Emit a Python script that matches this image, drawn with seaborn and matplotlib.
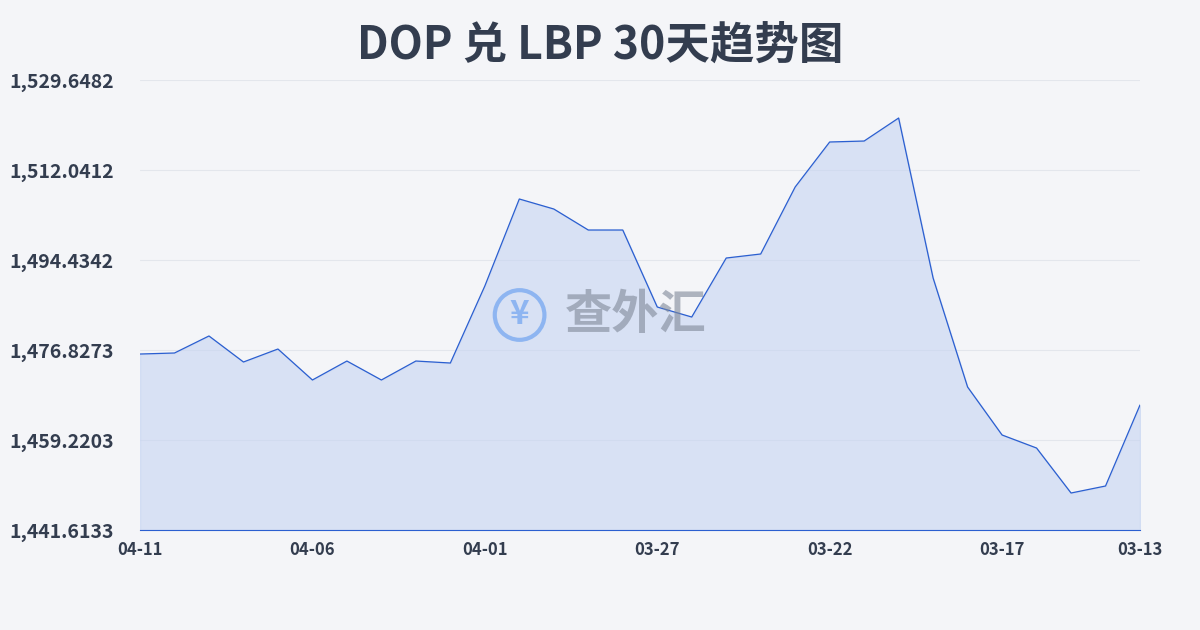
import matplotlib.pyplot as plt
import seaborn as sns
import pandas as pd

# dates from 04-11 back to 03-13
dates = ["04-11", "04-10", "04-09", "04-08", "04-07", "04-06", "04-05", "04-04", "04-03", "04-02",
         "04-01", "03-31", "03-30", "03-29", "03-28", "03-27", "03-26", "03-25", "03-24", "03-23",
         "03-22", "03-21", "03-20", "03-19", "03-18", "03-17", "03-16", "03-15", "03-14", "03-13"]
rates = [1476.04, 1476.24, 1479.57, 1474.48, 1477.02, 1470.96, 1474.67, 1470.96, 1474.67, 1474.28,
         1489.35, 1506.37, 1504.41, 1500.30, 1500.30, 1485.24, 1483.28, 1494.82, 1495.61, 1508.72,
         1517.52, 1517.71, 1522.21, 1490.91, 1469.59, 1460.20, 1457.65, 1448.85, 1450.22, 1466.07]
yticks = [1441.6133, 1459.2203, 1476.8273, 1494.4342, 1512.0412, 1529.6482]
xtick_labels = ["04-11", "04-06", "04-01", "03-27", "03-22", "03-17", "03-13"]

df = pd.DataFrame({"i": range(len(dates)), "date": dates, "rate": rates})

sns.set_style("white")
plt.rcParams['font.family'] = ['Noto Sans CJK SC', 'DejaVu Sans']

fig = plt.figure(figsize=(12, 6.3), dpi=100, facecolor="#f4f5f8")
ax = fig.add_axes([140/1200, 100/630, 1000/1200, 450/630])
ax.set_facecolor("none")

line_color = "#2b5fd0"
sns.lineplot(data=df, x="i", y="rate", ax=ax, color=line_color, linewidth=0.9)
ax.fill_between(df["i"], df["rate"], yticks[0], color="#c6d4f2", alpha=0.6)

ax.set_xlim(0, 29)
ax.set_ylim(yticks[0], yticks[-1])
ax.set_yticks(yticks)
ax.set_yticklabels([f"{v:,.4f}" for v in yticks], ha="left", fontsize=14,
                   color="#333d4f", fontweight="bold")
ax.tick_params(axis="y", length=0, pad=94)
xt = [dates.index(d) for d in xtick_labels]
ax.set_xticks(xt)
ax.set_xticklabels(xtick_labels, fontsize=12, color="#333d4f", fontweight="bold")
ax.tick_params(axis="x", length=5, color=line_color, pad=3)
ax.grid(axis="y", color="#e3e6ec", linewidth=0.8)
ax.set_xlabel("")
ax.set_ylabel("")
for s in ["top", "right", "left"]:
    ax.spines[s].set_visible(False)
ax.spines["bottom"].set_color(line_color)

fig.text(0.5, 0.928, "DOP 兑 LBP 30天趋势图", ha="center", va="center",
         fontsize=32, fontweight="bold", color="#333d4f")
fig.text(0.53, 0.5, "查外汇", ha="center", va="center", fontsize=34,
         fontweight="bold", color="#7f8898", alpha=0.6)
fig.text(0.433, 0.5, "¥", ha="center", va="center", fontsize=24,
         fontweight="bold", color="#6fa3f0", alpha=0.7,
         bbox=dict(boxstyle="circle,pad=0.25", facecolor="none", edgecolor="#6fa3f0", linewidth=3, alpha=0.7))

plt.savefig("out.png", dpi=100, facecolor=fig.get_facecolor())
